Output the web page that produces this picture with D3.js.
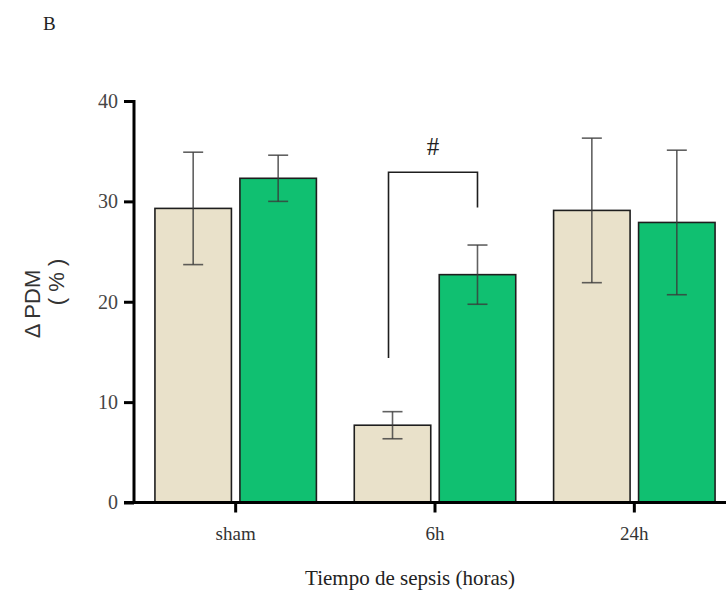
<!DOCTYPE html>
<html>
<head>
<meta charset="utf-8">
<script src="https://cdn.jsdelivr.net/npm/d3@7"></script>
<style>
  html, body { margin: 0; padding: 0; background: #fff; }
  svg { display: block; }
</style>
</head>
<body>
<svg id="chart" width="726" height="592"></svg>
<script>
// Δ PDM (%) by sepsis time, two groups per time point
const categories = ["sham", "6h", "24h"];
const groups = ["control", "tratado"];
const meansControl = [29.3, 7.7, 29.1];
const errControl   = [5.6, 1.35, 7.2];
const meansTreated = [32.3, 22.7, 27.9];
const errTreated   = [2.3, 2.95, 7.2];
const yTicks = [0, 10, 20, 30, 40];
// significance bracket over the 6h group (data units)
const bracketCategory = "6h";
const bracketTop = 32.9;
const bracketLeftEnd = 14.4;
const bracketRightEnd = 29.4;
const bracketLabel = "#";

const svg = d3.select("#chart");
const fills = { control: "#e9e1ca", tratado: "#10c071" };

const x0 = d3.scaleBand().domain(categories).range([136, 734])
  .paddingInner(0.19).paddingOuter(0.095);
const x1 = d3.scaleBand().domain(groups).range([0, x0.bandwidth()]).paddingInner(0.1);
const y = d3.scaleLinear().domain([0, 40]).range([502.5, 101]);

const rows = categories.flatMap((c, i) => [
  { cat: c, g: "control", v: meansControl[i], e: errControl[i] },
  { cat: c, g: "tratado", v: meansTreated[i], e: errTreated[i] }
]);

// bars
svg.append("g").selectAll("rect").data(rows).join("rect")
  .attr("x", d => x0(d.cat) + x1(d.g))
  .attr("y", d => y(d.v))
  .attr("width", x1.bandwidth())
  .attr("height", d => y(0) - y(d.v))
  .attr("fill", d => fills[d.g])
  .attr("stroke", "#1e1e1e")
  .attr("stroke-width", 1.6);

// error bars
const eb = svg.append("g").attr("stroke", "#3a3a3a").attr("stroke-opacity", 0.8)
  .attr("stroke-width", 1.6);
rows.forEach(d => {
  const cx = x0(d.cat) + x1(d.g) + x1.bandwidth() / 2;
  eb.append("line").attr("x1", cx).attr("x2", cx)
    .attr("y1", y(d.v + d.e)).attr("y2", y(d.v - d.e));
  [d.v + d.e, d.v - d.e].forEach(v => {
    eb.append("line").attr("x1", cx - 10).attr("x2", cx + 10)
      .attr("y1", y(v)).attr("y2", y(v));
  });
});

// axes
const serif = "'Liberation Serif', 'Times New Roman', serif";
const yAxis = svg.append("g").attr("transform", "translate(134,0)")
  .call(d3.axisLeft(y).tickValues(yTicks).tickSize(10).tickPadding(6).tickSizeOuter(0));
yAxis.select(".domain").attr("stroke", "#000").attr("stroke-width", 3)
  .attr("d", `M0,${y(40) - 1}V${y(0) + 1.5}`);
yAxis.selectAll(".tick line").attr("stroke", "#000").attr("stroke-width", 3);
yAxis.selectAll(".tick text").attr("font-family", serif).attr("font-size", 20)
  .attr("fill", "#454545");

const xAxis = svg.append("g").attr("transform", `translate(0,${y(0)})`)
  .call(d3.axisBottom(x0).tickSize(10).tickPadding(14).tickSizeOuter(0));
xAxis.select(".domain").attr("stroke", "#000").attr("stroke-width", 3)
  .attr("d", "M124,0H726");
xAxis.selectAll(".tick line").attr("stroke", "#000").attr("stroke-width", 3);
xAxis.selectAll(".tick text").attr("font-family", serif).attr("font-size", 19)
  .attr("fill", "#333");

// significance bracket
const bl = x0(bracketCategory) + x1("control") + x1.bandwidth() / 2 - 4;
const br = x0(bracketCategory) + x1("tratado") + x1.bandwidth() / 2;
svg.append("path")
  .attr("d", `M${bl},${y(bracketLeftEnd)}V${y(bracketTop)}H${br}V${y(bracketRightEnd)}`)
  .attr("fill", "none").attr("stroke", "#1e1e1e").attr("stroke-width", 1.6);
svg.append("text").attr("x", (bl + br) / 2).attr("y", y(bracketTop) - 17)
  .attr("text-anchor", "middle").attr("font-family", serif).attr("font-size", 25)
  .attr("fill", "#222").text(bracketLabel);

// axis titles
svg.append("text").attr("x", 410).attr("y", 585).attr("text-anchor", "middle")
  .attr("font-family", serif).attr("font-size", 21).attr("fill", "#222")
  .text("Tiempo de sepsis (horas)");

const yt = svg.append("g").attr("transform", "translate(0,300) rotate(-90)")
  .attr("font-family", "'Liberation Sans', Arial, sans-serif").attr("fill", "#333")
  .attr("text-anchor", "middle");
yt.append("text").attr("x", -4).attr("y", 40).attr("font-size", 22).text("Δ PDM");
yt.append("text").attr("x", 18).attr("y", 64).attr("font-size", 22).text("( % )");

// panel letter
svg.append("text").attr("x", 43).attr("y", 30).attr("font-family", serif)
  .attr("font-size", 19).attr("fill", "#222").text("B");
</script>
</body>
</html>
